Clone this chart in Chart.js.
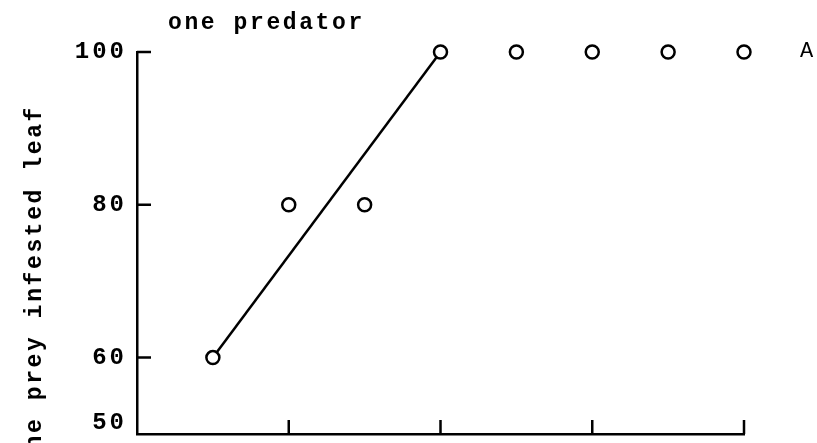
<!DOCTYPE html>
<html>
<head>
<meta charset="utf-8">
<script src="https://cdn.jsdelivr.net/npm/chart.js@4/dist/chart.umd.min.js"></script>
<style>
  html, body { margin: 0; padding: 0; background: #fff; }
  #wrap { width: 817px; height: 443px; }
</style>
</head>
<body>
<div id="wrap"><canvas id="c" width="817" height="443"></canvas></div>
<script>
// Observation index and share of prey-infested leaves reached
const dayIndex = [1, 2, 3, 4, 5, 6, 7, 8];
const preyInfested = [60, 80, 80, 100, 100, 100, 100, 100];

// Straight fitted line over the rising part
const fitX = [1, 4];
const fitY = [60, 100];

// Axis ticks
const yTickValues = [50, 60, 80, 100];
const xTickValues = [2, 4, 6, 8];

// Text
const titleText = 'one predator';
const yAxisText = 'ne prey infested leaf';
const panelLetter = 'A';

const FONT = '"Liberation Mono", "DejaVu Sans Mono", monospace';

// Inward tick marks, title, rotated axis caption and panel letter
const decorations = {
  id: 'decorations',
  beforeDraw(chart) {
    chart.ctx.letterSpacing = '3px';
  },
  afterDraw(chart) {
    const ctx = chart.ctx;
    const xs = chart.scales.x;
    const ys = chart.scales.y;
    const area = chart.chartArea;
    ctx.save();
    ctx.strokeStyle = '#000';
    ctx.lineWidth = 2.5;
    ctx.beginPath();
    yTickValues.forEach(v => {
      if (v === ys.min) return;
      const py = ys.getPixelForValue(v);
      ctx.moveTo(area.left, py);
      ctx.lineTo(area.left + 14, py);
    });
    xTickValues.forEach(v => {
      const px = xs.getPixelForValue(v);
      ctx.moveTo(px, area.bottom);
      ctx.lineTo(px, area.bottom - 14);
    });
    ctx.stroke();

    ctx.fillStyle = '#000';
    ctx.font = 'bold 23px ' + FONT;
    ctx.letterSpacing = '2.6px';
    ctx.textAlign = 'left';
    ctx.textBaseline = 'alphabetic';
    ctx.fillText(titleText, 168, 29);

    ctx.font = '22px ' + FONT;
    ctx.fillText(panelLetter, 800, 57);

    ctx.font = 'bold 23px ' + FONT;
    ctx.save();
    ctx.translate(41, 105);
    ctx.rotate(-Math.PI / 2);
    ctx.textAlign = 'right';
    ctx.fillText(yAxisText, 0, 0);
    ctx.restore();

    ctx.restore();
    ctx.letterSpacing = '0px';
  }
};

new Chart(document.getElementById('c'), {
  type: 'line',
  data: {
    datasets: [
      {
        label: 'observed',
        data: dayIndex.map((x, i) => ({ x: x, y: preyInfested[i] })),
        showLine: false,
        pointStyle: 'circle',
        pointRadius: 6.5,
        pointBorderWidth: 2.5,
        pointBorderColor: '#000',
        pointBackgroundColor: '#fff',
        clip: false,
        order: 0
      },
      {
        label: 'fit',
        data: fitX.map((x, i) => ({ x: x, y: fitY[i] })),
        showLine: true,
        borderColor: '#000',
        borderWidth: 2.5,
        pointRadius: 0,
        tension: 0,
        clip: false,
        order: 1
      }
    ]
  },
  options: {
    responsive: false,
    animation: false,
    devicePixelRatio: 1,
    layout: { padding: { top: 52, right: 73, bottom: 0, left: 0 } },
    plugins: {
      legend: { display: false },
      tooltip: { enabled: false },
      title: { display: false }
    },
    scales: {
      x: {
        type: 'linear',
        min: 0,
        max: 8,
        afterBuildTicks: s => { s.ticks = xTickValues.map(v => ({ value: v })); },
        afterFit: s => {
          s.height = 8;
          s.paddingLeft = 0; s.paddingRight = 0;
        },
        ticks: { display: false },
        grid: { display: false, drawTicks: false },
        border: { display: true, color: '#000', width: 2.5 }
      },
      y: {
        type: 'linear',
        min: 50,
        max: 100,
        afterBuildTicks: s => { s.ticks = yTickValues.map(v => ({ value: v })); },
        // the bottom label sits just above the axis corner
        afterTickToLabelConversion: s => {
          s.ticks.forEach(t => { if (t.value === s.min) t.label = [String(t.value), '']; });
        },
        afterFit: s => {
          s.width = 137;
          s.paddingTop = 0; s.paddingBottom = 0;
        },
        ticks: {
          color: '#000',
          padding: 10,
          font: { family: FONT, size: 24, weight: 'bold', lineHeight: 0.9 }
        },
        grid: { display: false, drawTicks: false },
        border: { display: true, color: '#000', width: 2.5 }
      }
    }
  },
  plugins: [decorations]
});
</script>
</body>
</html>
